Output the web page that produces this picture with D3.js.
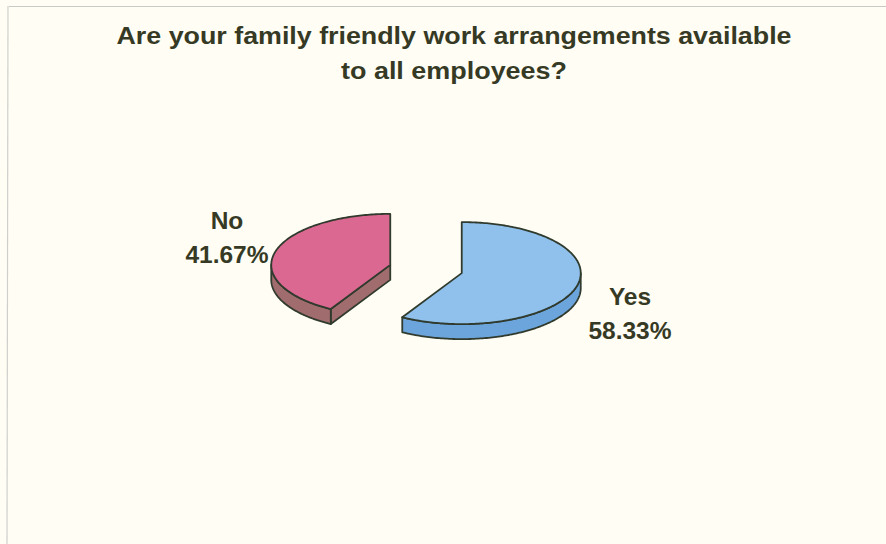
<!DOCTYPE html>
<html>
<head>
<meta charset="utf-8">
<script src="https://cdn.jsdelivr.net/npm/d3@7"></script>
<style>
  html, body { margin: 0; padding: 0; background: #fffdf4; }
  svg { display: block; }
</style>
</head>
<body>
<svg id="chart" width="886" height="544"></svg>
<script>
// ---- data ----
const titleLines = ["Are your family friendly work arrangements available", "to all employees?"];
const categories = ["Yes", "No"];
const values = [58.33, 41.67];
const percentLabels = ["58.33%", "41.67%"];
const topColors = ["#8fc1ec", "#da6891"];
const sideColors = ["#6ca4dc", "#a06c6d"];

// ---- layout ----
const W = 886, H = 544;
const svg = d3.select("#chart");
const ink = "#363a24";

svg.append("rect").attr("width", W).attr("height", H).attr("fill", "#fffdf4");
// scanned frame lines
svg.append("line").attr("x1", 9).attr("y1", 6.5).attr("x2", W).attr("y2", 6.5)
  .attr("stroke", "#c9c9c6").attr("stroke-width", 1.2);
svg.append("line").attr("x1", 8).attr("y1", 6).attr("x2", 7).attr("y2", H)
  .attr("stroke", "#cfcfcc").attr("stroke-width", 1.2);

// title
const titleLayout = [{ y: 44, len: 675 }, { y: 79, len: 226 }];
svg.selectAll("text.title").data(titleLines).join("text")
  .attr("class", "title")
  .attr("x", 454)
  .attr("y", (d, i) => titleLayout[i].y)
  .attr("text-anchor", "middle")
  .attr("font-family", "Liberation Sans, Arial, sans-serif")
  .attr("font-weight", "bold")
  .attr("font-size", 23)
  .attr("fill", ink)
  .attr("textLength", (d, i) => titleLayout[i].len)
  .attr("lengthAdjust", "spacingAndGlyphs")
  .text(d => d);

// pie geometry (projected ellipse)
const cx = 426, cy = 269, rx = 119, ry = 51, depth = 15, explode = 37;
const pie = d3.pie().sort(null).value(d => d).startAngle(0).endAngle(2 * Math.PI);
const arcs = pie(values);

function pt(a, r, z, ox, oy) {
  return [ox + Math.sin(a) * rx * r, oy - Math.cos(a) * ry * r + z];
}
const line = d3.line();
function sampleAngles(a0, a1) {
  const n = Math.max(2, Math.ceil(Math.abs(a1 - a0) / (Math.PI / 180)));
  return d3.range(n + 1).map(i => a0 + (a1 - a0) * i / n);
}

const stroke = "#303b2e";
const sw = 1.8;
const g = svg.append("g");

arcs.forEach((d, i) => {
  const mid = (d.startAngle + d.endAngle) / 2;
  const ox = cx + Math.sin(mid) * explode;
  const oy = cy - Math.cos(mid) * explode * (ry / rx);
  const sg = g.append("g");

  // cut faces
  [[d.startAngle, d.startAngle - Math.PI / 2], [d.endAngle, d.endAngle + Math.PI / 2]].forEach(([a, n]) => {
    if (-Math.cos(n) > 0.01) {
      const p = [pt(a, 0, 0, ox, oy), pt(a, 1, 0, ox, oy), pt(a, 1, depth, ox, oy), pt(a, 0, depth, ox, oy)];
      sg.append("path").attr("d", line(p) + "Z")
        .attr("fill", sideColors[i]).attr("stroke", stroke).attr("stroke-width", sw)
        .attr("stroke-linejoin", "round");
    }
  });

  // outer side (front half only)
  const v0 = Math.max(d.startAngle, Math.PI / 2), v1 = Math.min(d.endAngle, 3 * Math.PI / 2);
  if (v1 > v0) {
    const angs = sampleAngles(v0, v1);
    const p = angs.map(a => pt(a, 1, 0, ox, oy))
      .concat(angs.slice().reverse().map(a => pt(a, 1, depth, ox, oy)));
    sg.append("path").attr("d", line(p) + "Z")
      .attr("fill", sideColors[i]).attr("stroke", stroke).attr("stroke-width", sw)
      .attr("stroke-linejoin", "round");
  }

  // top face
  const top = [pt(0, 0, 0, ox, oy)].concat(sampleAngles(d.startAngle, d.endAngle).map(a => pt(a, 1, 0, ox, oy)));
  sg.append("path").attr("d", line(top) + "Z")
    .attr("fill", topColors[i]).attr("stroke", stroke).attr("stroke-width", sw)
    .attr("stroke-linejoin", "round");
});

// labels
const labelPos = [[630, 321], [227, 245.5]];
arcs.forEach((d, i) => {
  const [lx, ly] = labelPos[i];
  const t = svg.append("text")
    .attr("text-anchor", "middle")
    .attr("font-family", "Liberation Sans, Arial, sans-serif")
    .attr("font-weight", "bold")
    .attr("font-size", 24.5)
    .attr("fill", ink);
  t.append("tspan").attr("x", lx).attr("y", ly - 16.5).text(categories[i]);
  t.append("tspan").attr("x", lx).attr("y", ly + 17.5).text(percentLabels[i]);
});
</script>
</body>
</html>
